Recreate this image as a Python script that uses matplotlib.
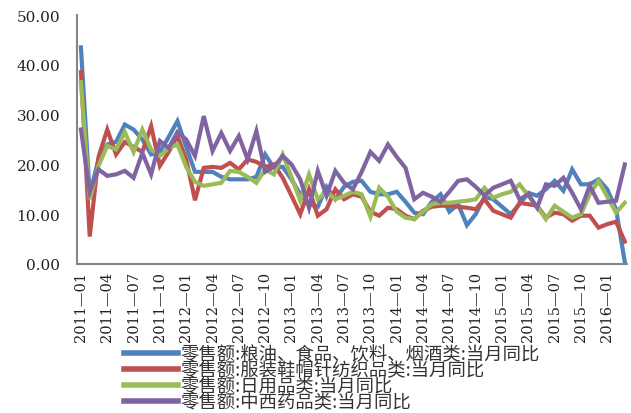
import numpy as np
import pandas as pd
import matplotlib
matplotlib.use("Agg")
import matplotlib.pyplot as plt

# monthly data, 2011-01 .. 2016-03
months = pd.date_range("2011-01", periods=63, freq="MS").strftime("%Y-%m").tolist()

food = [43.5, 14, 21, 24, 24.5, 28, 27, 25, 22, 22.5, 25.5, 28.7, 23.5, 18.5, 18.5,
        18.5, 17.5, 17, 17, 17, 17.5, 22, 19.3, 19.5, 17, 14, 12, 11.5, 15.5, 13,
        15.5, 16.5, 16.7, 14.5, 14, 14, 14.5, 12.5, 10.3, 10, 12.5, 14, 10.5, 12, 7.8,
        10, 13.5, 13, 11.5, 10, 12, 14.3, 13.7, 15, 16.7, 14.7, 19, 16, 16, 17, 15,
        11, 0.4]
clothing = [38.5, 5.5, 21.5, 27, 22, 24.5, 23.5, 22.5, 27.7, 19.7, 22.5, 25.7, 21, 12.8,
            19.3, 19.5, 19.3, 20.3, 19, 21, 20.5, 19.5, 20, 17.3, 13.7, 10, 15, 9.7,
            11, 15, 13, 14, 13.5, 10.5, 9.7, 11.3, 11, 9.7, 9, 10.7, 11.5, 11.7, 11.7,
            11.5, 11.3, 11, 13, 10.7, 10, 9.3, 12.3, 12, 11.7, 9.3, 10.3, 10, 8.7, 9.7,
            9.7, 7.3, 8, 8.5, 4.5]
daily = [36.5, 13, 19.7, 23.7, 23, 26.5, 22.5, 27, 23, 21.7, 23.3, 24, 19.5, 16.5, 15.7,
         16, 16.3, 18.7, 18.5, 17.5, 16.3, 19, 18, 22, 17.5, 12.7, 18, 13, 14.5, 13,
         13.7, 14.5, 14, 9.5, 15.3, 13.5, 10.5, 9.3, 9, 10.5, 12, 12.3, 12.3, 12.5,
         12.7, 13, 15.3, 13.3, 14, 14.5, 16, 13.7, 11.5, 9, 11.7, 10.5, 9.3, 10, 14,
         16.7, 13.5, 10.3, 12.3]
medicine = [27, 14.5, 19, 17.7, 18, 18.7, 17.3, 22.3, 18, 24.7, 23.3, 26.5, 25, 21.7,
            29.7, 22.7, 26.3, 22.7, 25.7, 21, 26.7, 18.5, 19.5, 21.7, 20, 17, 11.3,
            18.7, 13.7, 18.7, 16.3, 15, 18.5, 22.5, 20.7, 24, 21.5, 19.3, 13, 14.3,
            13.5, 12.5, 14.5, 16.7, 17, 15.5, 13.8, 15.3, 16, 16.7, 13, 14, 11.3, 16,
            15.7, 17.3, 14.3, 11, 15.7, 12.3, 12.5, 12.7, 20]

labels = ["零售额:粮油、食品、饮料、烟酒类:当月同比",
          "零售额:服装鞋帽针纺织品类:当月同比",
          "零售额:日用品类:当月同比",
          "零售额:中西药品类:当月同比"]
colors = ["#4F81BD", "#C0504D", "#9BBB59", "#8064A2"]

plt.rcParams['font.family'] = ['DejaVu Serif', 'Noto Sans CJK SC']

fig = plt.figure(figsize=(6.31, 4.14), dpi=100)
ax = fig.add_axes([77 / 631, 1 - 265 / 414, 550 / 631, 249 / 414])

x = np.arange(len(months))
for s, lab, c in zip([food, clothing, daily, medicine], labels, colors):
    ax.plot(x, s, color=c, lw=3, label=lab, solid_joinstyle="miter")

ax.set_xlim(-0.45, 62.25)
ax.set_ylim(0, 50)
ax.set_yticks(np.arange(0, 51, 10))
ax.set_yticklabels(["%.2f" % v for v in np.arange(0, 51, 10)])
ax.set_xticks(x[::3])
ax.set_xticklabels([m.replace("-", "\u2014") for m in months[::3]], rotation=90)
ax.tick_params(axis="y", length=0, pad=12, labelsize=11, colors="#222222")
ax.tick_params(axis="x", length=0, pad=5, labelsize=10.5, colors="#222222")

for side in ["top", "right"]:
    ax.spines[side].set_visible(False)
for side in ["left", "bottom"]:
    ax.spines[side].set_color("#868686")
    ax.spines[side].set_linewidth(1.5)

leg = ax.legend(loc="upper left", bbox_to_anchor=(124 / 631, 1 - 346 / 414),
                bbox_transform=fig.transFigure, frameon=False,
                prop={"family": ["Noto Sans CJK SC"], "size": 13.2},
                handlelength=2.95, handletextpad=0.15, labelspacing=-0.1,
                borderpad=0, borderaxespad=0)
for line in leg.get_lines():
    line.set_linewidth(4)
for t in leg.get_texts():
    t.set_color("#333333")

fig.savefig("out.png", dpi=100)
